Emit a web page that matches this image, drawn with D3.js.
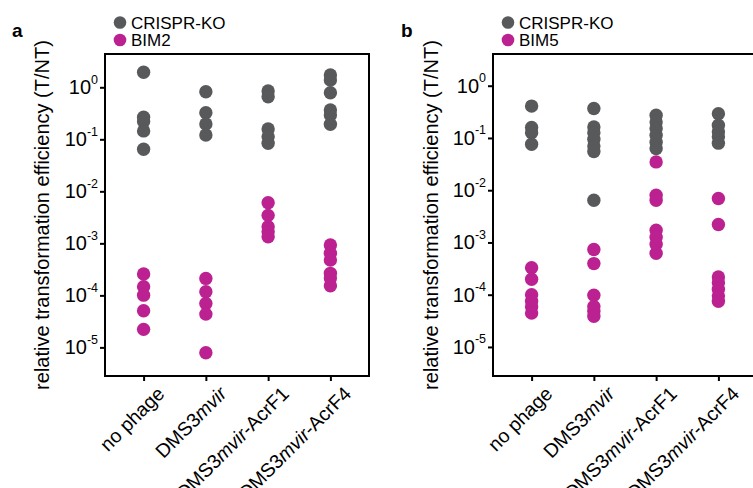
<!DOCTYPE html>
<html><head><meta charset="utf-8">
<script src="https://cdn.jsdelivr.net/npm/d3@7"></script>
<style>body{margin:0;background:#fff}svg{display:block;font-family:"Liberation Sans",Arial,sans-serif}</style>
</head><body><svg id="c" width="753" height="488"></svg>
<script>
// ---- data ----
const categories = ["no phage", "DMS3mvir", "DMS3mvir-AcrF1", "DMS3mvir-AcrF4"];
const tickExponents = [0, -1, -2, -3, -4, -5];
const seriesNamesA = ["CRISPR-KO", "BIM2"];
const seriesNamesB = ["CRISPR-KO", "BIM5"];
const panelA_crisprKO = [
  [1.94, 0.265, 0.219, 0.145, 0.0645],
  [0.823, 0.325, 0.197, 0.121],
  [0.85, 0.66, 0.158, 0.112, 0.084],
  [1.72, 1.38, 0.787, 0.366, 0.293, 0.194]
];
const panelA_bim2 = [
  [2.57e-4, 1.46e-4, 1.01e-4, 5.06e-5, 2.22e-5],
  [2.12e-4, 1.17e-4, 7.0e-5, 4.36e-5, 7.9e-6],
  [6.04e-3, 3.45e-3, 2.09e-3, 1.67e-3, 1.34e-3],
  [9.27e-4, 6.46e-4, 4.78e-4, 2.65e-4, 2.15e-4, 1.53e-4]
];
const panelB_crisprKO = [
  [0.407, 0.159, 0.126, 0.076],
  [0.367, 0.163, 0.126, 0.095, 0.070, 0.055, 6.43e-3],
  [0.273, 0.203, 0.152, 0.113, 0.083, 0.063],
  [0.291, 0.176, 0.131, 0.105, 0.0795]
];
const panelB_bim5 = [
  [3.27e-4, 1.97e-4, 9.95e-5, 7.48e-5, 5.86e-5, 4.47e-5],
  [7.31e-4, 3.94e-4, 9.75e-5, 5.92e-5, 4.81e-5, 3.86e-5],
  [0.0348, 8.0e-3, 6.43e-3, 1.71e-3, 1.26e-3, 9.25e-4, 6.21e-4],
  [6.93e-3, 2.2e-3, 2.18e-4, 1.69e-4, 1.27e-4, 9.5e-5, 7.5e-5]
];
const GRAY = "#58595b", MAGENTA = "#bb2190";

const svg = d3.select("#c");

function labelParts(text, sel) {
  const parts = text.split("mvir");
  parts.forEach((p, i) => {
    if (i > 0) sel.append("tspan").attr("font-style", "italic").text("mvir");
    if (p) sel.append("tspan").text(p);
  });
}

function drawPanel(cfg) {
  const {left, right, top, bottom, yMin, yMax, series, letter, letterX, titleX} = cfg;
  const x = d3.scalePoint().domain(categories).range([left, right]).padding(0.62);
  const y = d3.scaleLog().domain([yMin, yMax]).range([bottom, top]);
  const g = svg.append("g");

  series.forEach(s => {
    s.values.forEach((vals, i) => {
      g.append("g").selectAll("circle").data(vals).enter().append("circle")
        .attr("cx", x(categories[i])).attr("cy", d => y(d)).attr("r", 6.7)
        .attr("fill", s.color);
    });
  });

  g.append("rect").attr("x", left).attr("y", top)
    .attr("width", right - left).attr("height", bottom - top)
    .attr("fill", "none").attr("stroke", "#000").attr("stroke-width", 2);

  const ya = g.append("g").attr("transform", `translate(${left},0)`)
    .call(d3.axisLeft(y).tickValues(tickExponents.map(e => Math.pow(10, e))).tickSize(5).tickFormat(() => ""));
  ya.select(".domain").remove();
  ya.selectAll(".tick line").attr("stroke", "#000").attr("stroke-width", 2);
  ya.selectAll(".tick").each(function(d, i) {
    const t = d3.select(this).append("text").attr("x", -7).attr("y", 6.5)
      .attr("text-anchor", "end").attr("fill", "#000").attr("font-size", 20);
    t.append("tspan").text("10");
    t.append("tspan").attr("dy", -10.5).attr("font-size", 12.5).text(String(tickExponents[i]));
  });

  const xa = g.append("g").attr("transform", `translate(0,${bottom})`)
    .call(d3.axisBottom(x).tickSize(5).tickFormat(() => ""));
  xa.select(".domain").remove();
  xa.selectAll(".tick line").attr("stroke", "#000").attr("stroke-width", 2);
  categories.forEach(c => {
    const t = g.append("text").attr("text-anchor", "end").attr("font-size", 19.5).attr("fill", "#000")
      .attr("transform", `translate(${x(c) + 22},${bottom + 19}) rotate(-45)`);
    labelParts(c, t);
  });

  g.append("text").attr("transform", `translate(${titleX},${(top + bottom) / 2}) rotate(-90)`)
    .attr("text-anchor", "middle").attr("font-size", 20).attr("fill", "#000")
    .text("relative transformation efficiency (T/NT)");

  g.append("text").attr("x", letterX).attr("y", 37).attr("font-size", 19)
    .attr("font-weight", "bold").attr("fill", "#000").text(letter);

  series.forEach((s, i) => {
    const ly = 22.5 + i * 17.5;
    g.append("circle").attr("cx", left + 15).attr("cy", ly).attr("r", 6.3).attr("fill", s.color);
    g.append("text").attr("x", left + 26).attr("y", ly + 6).attr("font-size", 17)
      .attr("fill", "#000").text(s.name);
  });
}

drawPanel({
  left: 105, right: 369, top: 54, bottom: 376,
  yMin: Math.pow(10, -5.55), yMax: Math.pow(10, 0.64),
  letter: "a", letterX: 12, titleX: 49,
  series: [
    {name: seriesNamesA[0], color: GRAY, values: panelA_crisprKO},
    {name: seriesNamesA[1], color: MAGENTA, values: panelA_bim2}
  ]
});
drawPanel({
  left: 493, right: 757, top: 54, bottom: 376,
  yMin: Math.pow(10, -5.556), yMax: Math.pow(10, 0.607),
  letter: "b", letterX: 401, titleX: 438,
  series: [
    {name: seriesNamesB[0], color: GRAY, values: panelB_crisprKO},
    {name: seriesNamesB[1], color: MAGENTA, values: panelB_bim5}
  ]
});
</script></body></html>
